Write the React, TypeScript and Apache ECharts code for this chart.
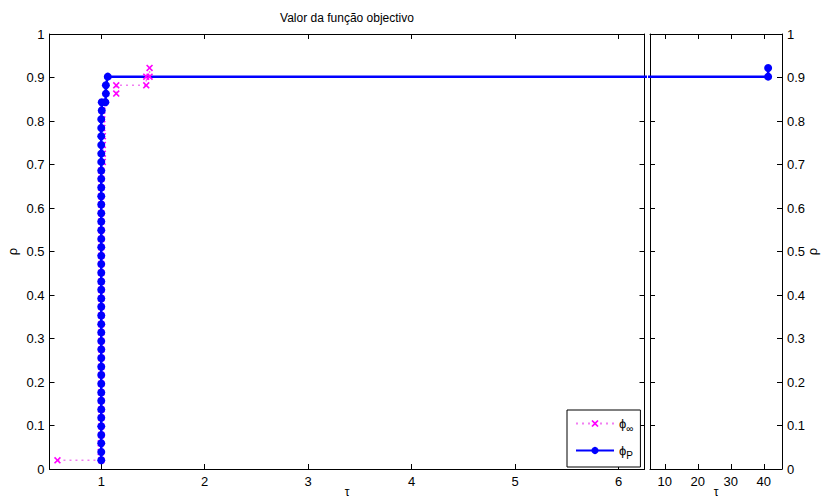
import React, { useEffect, useRef } from 'react';
import * as echarts from 'echarts';

// ρ levels shared by the lower part of both profiles
const rhoLevels = [
  0.020, 0.039, 0.059, 0.078, 0.098, 0.118, 0.137, 0.157, 0.176, 0.196,
  0.216, 0.235, 0.255, 0.275, 0.294, 0.314, 0.333, 0.353, 0.373, 0.392,
  0.412, 0.431, 0.451, 0.471, 0.490, 0.510, 0.529, 0.549, 0.569, 0.588,
  0.608, 0.627, 0.647, 0.667, 0.686, 0.706, 0.725, 0.745, 0.765, 0.784,
  0.804, 0.824, 0.843,
];

// φP (blue) – τ for each ρ level, then the upper points
const blueTauLow = [
  1.0, 1.0, 1.0, 1.0, 1.0, 1.0, 1.0, 1.0, 1.0, 1.0,
  1.0, 1.0, 1.0, 1.0, 1.0, 1.0, 1.0, 1.0, 1.0, 1.0,
  1.0, 1.0, 1.0, 1.0, 1.0, 1.0, 1.0, 1.0, 1.0, 1.0,
  1.0, 1.0, 1.0, 1.0, 1.0, 1.0, 1.0, 1.0, 1.0, 1.0,
  1.0, 1.005, 1.005,
];
const blueTauTop = [1.04, 1.045, 1.045, 1.063, 41.3, 41.3];
const blueRhoTop = [0.843, 0.863, 0.882, 0.902, 0.902, 0.922];

// φ∞ (magenta)
const magTauStart = [0.577];
const magRhoStart = [0.020];
const magTauLow = [
  1.0, 0.995, 0.995, 1.0, 1.0, 1.0, 1.0, 1.0, 1.0, 1.0,
  1.0, 1.0, 1.0, 1.0, 1.0, 1.0, 1.0, 1.0, 1.0, 1.0,
  1.0, 1.0, 1.0, 1.0, 1.0, 1.0, 1.0, 1.0, 1.0, 1.0,
  1.0, 1.0, 1.0, 1.0, 1.0, 1.015, 1.015, 1.015, 1.015, 1.01,
  1.01, 1.01, 1.01,
];
const magTauTop = [1.145, 1.145, 1.435, 1.435, 1.467, 1.467];
const magRhoTop = [0.863, 0.882, 0.882, 0.902, 0.902, 0.922];

const leftTicks = [1, 2, 3, 4, 5, 6];
const rightTicks = [10, 20, 30, 40];

const FONT = '"Liberation Sans", Arial, Helvetica, sans-serif';
const CROSS = 'path://M0,1.6L1.6,0L5,3.4L8.4,0L10,1.6L6.6,5L10,8.4L8.4,10L5,6.6L1.6,10L0,8.4L3.4,5Z';

const zip = (xs: number[], ys: number[]) => xs.map((x, i) => [x, ys[i]]);

export default function App() {
  const ref = useRef<HTMLDivElement>(null);
  useEffect(() => {
    document.body.style.margin = '0';
    if (!ref.current) return;
    const chart = echarts.init(ref.current, undefined, { renderer: 'svg' });

    const blueData = [...zip(blueTauLow, rhoLevels), ...zip(blueTauTop, blueRhoTop)];
    const magA = [...zip(magTauStart, magRhoStart), ...zip(magTauLow, rhoLevels)];
    const magB = zip(magTauTop, magRhoTop);

    const black = { color: '#000', width: 1 };
    const xBase = (grid: number, min: number, max: number, ticks: number[], pos: 'top' | 'bottom') => ({
      type: 'value',
      gridIndex: grid,
      min,
      max,
      position: pos,
      axisLine: { show: true, onZero: false, lineStyle: black },
      axisTick: { show: true, inside: true, length: 5, customValues: ticks, lineStyle: black },
      axisLabel: pos === 'bottom'
        ? { show: true, customValues: ticks, margin: 6, color: '#000', fontSize: 13, fontFamily: FONT }
        : { show: false },
      splitLine: { show: false },
      ...(pos === 'bottom'
        ? { name: 'τ', nameLocation: 'middle', nameGap: 17, nameMoveOverlap: false, nameTextStyle: { color: '#000', fontSize: 12, fontFamily: FONT } }
        : {}),
    });
    const yBase = (grid: number, pos: 'left' | 'right', labels: boolean) => ({
      type: 'value',
      gridIndex: grid,
      min: 0,
      max: 1,
      interval: 0.1,
      position: pos,
      axisLine: { show: true, onZero: false, lineStyle: black },
      axisTick: { show: true, inside: true, length: 5, lineStyle: black },
      axisLabel: labels
        ? { show: true, margin: 5, color: '#000', fontSize: 13, fontFamily: FONT }
        : { show: false },
      splitLine: { show: false },
      ...(labels
        ? { name: 'ρ', nameLocation: 'middle', nameRotate: 90, nameMoveOverlap: false, nameGap: pos === 'left' ? 31 : 24, nameTextStyle: { color: '#000', fontSize: 13, fontFamily: FONT } }
        : {}),
    });

    chart.setOption({
      animation: false,
      backgroundColor: '#fff',
      grid: [
        { left: 49.5, top: 34, width: 595, height: 435, show: false, containLabel: false, outerBoundsMode: 'none' },
        { left: 650, top: 34, width: 132, height: 435, show: false, containLabel: false, outerBoundsMode: 'none' },
      ],
      xAxis: [
        xBase(0, 0.5, 6.25, leftTicks, 'bottom'),
        xBase(0, 0.5, 6.25, leftTicks, 'top'),
        xBase(1, 5.5, 45.5, rightTicks, 'bottom'),
        xBase(1, 5.5, 45.5, rightTicks, 'top'),
      ],
      yAxis: [
        yBase(0, 'left', true),
        yBase(0, 'right', false),
        yBase(1, 'left', false),
        yBase(1, 'right', true),
      ],
      graphic: [
        {
          type: 'text',
          x: 347,
          y: 18,
          style: { text: 'Valor da função objectivo', align: 'center', verticalAlign: 'middle', fill: '#000', fontSize: 12, fontFamily: FONT },
        },
      ],
      legend: {
        data: ['ϕ∞', 'ϕP'],
        orient: 'vertical',
        left: 567,
        top: 410,
        padding: [7, 7, 7, 8],
        itemGap: 11,
        itemWidth: 38,
        itemHeight: 9,
        borderColor: '#000',
        borderWidth: 1,
        borderRadius: 0,
        backgroundColor: '#fff',
        selectedMode: false,
        formatter: (name: string) => `{a|ϕ}{b|${name.slice(1)}}`,
        textStyle: {
          fontFamily: FONT,
          color: '#000',
          rich: {
            a: { fontSize: 13, fontFamily: FONT, color: '#000' },
            b: { fontSize: 10, fontFamily: FONT, color: '#000', padding: [9, 0, 0, 0] },
          },
        },
      },
      series: [
        {
          name: 'ϕ∞', type: 'line', xAxisIndex: 0, yAxisIndex: 0, data: magA,
          symbol: CROSS, symbolSize: 7, showAllSymbol: true, clip: true,
          itemStyle: { color: '#ff00ff' },
          lineStyle: { color: '#f27ef2', width: 1.5, type: [2, 4] },
        },
        {
          name: 'ϕ∞', type: 'line', xAxisIndex: 0, yAxisIndex: 0, data: magB,
          symbol: CROSS, symbolSize: 7, showAllSymbol: true, clip: true,
          itemStyle: { color: '#ff00ff' },
          lineStyle: { color: '#f27ef2', width: 1.5, type: [2, 4] },
        },
        {
          name: 'ϕP', type: 'line', xAxisIndex: 0, yAxisIndex: 0, data: blueData,
          symbol: 'circle', symbolSize: 8, showAllSymbol: true, clip: true,
          itemStyle: { color: '#0000ff' },
          lineStyle: { color: '#0000ff', width: 2.5 },
        },
        {
          name: 'ϕP', type: 'line', xAxisIndex: 2, yAxisIndex: 3, data: blueData.slice(-3),
          symbol: 'circle', symbolSize: 8, showAllSymbol: true, clip: true,
          itemStyle: { color: '#0000ff' },
          lineStyle: { color: '#0000ff', width: 2.5 },
        },
      ],
    });
    return () => chart.dispose();
  }, []);
  return <div ref={ref} style={{ width: 822, height: 500 }} />;
}
